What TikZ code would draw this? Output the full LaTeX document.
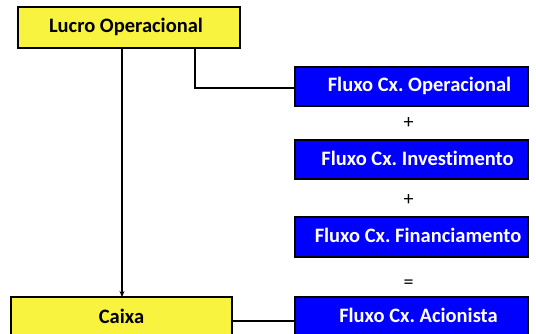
\documentclass[tikz,border=0pt]{standalone}
\usepackage{fontspec}
\setmainfont[Ligatures={NoCommon}]{Carlito}
\frenchspacing
\usetikzlibrary{arrows.meta}
\definecolor{boxyellow}{HTML}{F8F33E}
\definecolor{boxblue}{HTML}{0000FF}
\begin{document}
\begin{tikzpicture}[x=1pt,y=-1pt,
  ybox/.style={draw=black,line width=1.8pt,fill=boxyellow},
  bbox/.style={draw=black,line width=1.8pt,fill=boxblue},
  ylabel/.style={font=\fontsize{20.5}{24}\selectfont\bfseries,text=black},
  blabel/.style={font=\fontsize{20.5}{24}\selectfont\bfseries,text=white},
  op/.style={font=\fontsize{20}{24}\selectfont,text=black,inner sep=0pt},
  conn/.style={draw=black,line width=1.3pt}]
\useasboundingbox (0,0) rectangle (536,334);
\clip (0,0) rectangle (536,334);
% boxes
\draw[ybox] (18,7) rectangle (240,48);
\node[ylabel] (lucro) at (126,27) {Lucro Operacional};
\coordinate (lucroS1) at (122,48);
\coordinate (lucroS2) at (195,48);
\draw[ybox] (11,297) rectangle (232,360);
\node[ylabel] (caixa) at (121.5,316) {Caixa};
\coordinate (caixaN) at (122,297);
\coordinate (caixaE) at (232,321);
\draw[bbox] (295,67) rectangle (528,106);
\node[blabel] (fop) at (419.5,86) {Fluxo Cx. Operacional};
\coordinate (fopW) at (295,88);
\draw[bbox] (295,140) rectangle (528,179);
\node[blabel] (finv) at (417.5,158) {Fluxo Cx. Investimento};
\draw[bbox] (295,217) rectangle (528,257);
\node[blabel] (ffin) at (418,235) {Fluxo Cx. Financiamento};
\draw[bbox] (295,297) rectangle (528,360);
\node[blabel] (facio) at (418.5,315) {Fluxo Cx. Acionista};
\coordinate (facioW) at (295,321);
% operators
\node[op] (p1) at (408.5,123) {+};
\node[op] (p2) at (408.5,200) {+};
\node[op] (eq) at (408.5,284.5) {=};
% connectors
\draw[conn,-{Stealth[length=6pt,width=5pt]}] (lucroS1) -- (caixaN);
\draw[conn] (lucroS2) |- (fopW);
\draw[conn] (caixaE) -- (facioW);
\end{tikzpicture}
\end{document}
